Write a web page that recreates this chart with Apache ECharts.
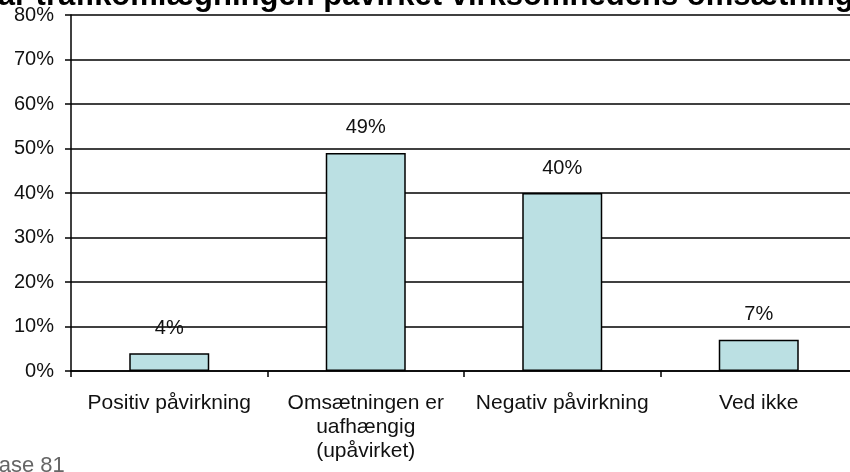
<!DOCTYPE html>
<html>
<head>
<meta charset="utf-8">
<script src="https://cdn.jsdelivr.net/npm/echarts@6/dist/echarts.min.js"></script>
<style>
  html, body { margin: 0; padding: 0; background: #fff; }
  #chart { width: 850px; height: 472px; }
</style>
</head>
<body>
<div id="chart"></div>
<script>
// Survey answers: share of companies per answer (percent)
const categories = [
  'Positiv påvirkning',
  'Omsætningen er\nuafhængig\n(upåvirket)',
  'Negativ påvirkning',
  'Ved ikke'
];
const shares = [4, 49, 40, 7];
const yTicks = { min: 0, max: 80, interval: 10 };
const titleText = 'Har trafikomlægningen påvirket virksomhedens omsætning?';
const noteText = 'Base 81';

const FONT = '"Liberation Sans", Arial, sans-serif';

const chart = echarts.init(document.getElementById('chart'), null, { renderer: 'canvas' });
chart.setOption({
  animation: false,
  backgroundColor: '#ffffff',
  grid: {
    left: 71, width: 786, top: 15, bottom: 101,
    containLabel: false,
    outerBoundsMode: 'none'
  },
  graphic: [
    {
      type: 'text',
      z: 10,
      style: {
        x: 424,
        y: -4,
        align: 'center',
        verticalAlign: 'middle',
        text: titleText,
        font: 'bold 31px ' + FONT,
        fill: '#000'
      }
    },
    {
      type: 'text',
      style: {
        x: -16,
        y: 466,
        align: 'left',
        verticalAlign: 'middle',
        text: noteText,
        font: '22px ' + FONT,
        fill: '#666'
      }
    }
  ],
  xAxis: {
    type: 'category',
    data: categories,
    axisLine: { show: true, lineStyle: { color: '#000', width: 1.5 } },
    axisTick: { show: true, length: 6, alignWithLabel: false, lineStyle: { color: '#000', width: 1.5 } },
    axisLabel: {
      color: '#111',
      fontFamily: FONT,
      fontSize: 21,
      lineHeight: 24,
      margin: 20,
      interval: 0
    },
    splitLine: { show: false }
  },
  yAxis: {
    type: 'value',
    min: yTicks.min,
    max: yTicks.max,
    interval: yTicks.interval,
    axisLine: { show: true, lineStyle: { color: '#000', width: 1.5 } },
    axisTick: { show: true, length: 6, inside: false, lineStyle: { color: '#000', width: 1.5 } },
    axisLabel: {
      formatter: '{value}%',
      color: '#111',
      fontFamily: FONT,
      fontSize: 20,
      margin: 17
    },
    splitLine: { show: true, lineStyle: { color: '#000', width: 1.5 } }
  },
  series: [{
    type: 'bar',
    data: shares,
    barWidth: 80,
    itemStyle: { color: '#BBE0E3', borderColor: '#000', borderWidth: 1.5 },
    label: {
      show: true,
      position: 'top',
      distance: 15,
      formatter: '{c}%',
      color: '#111',
      fontFamily: FONT,
      fontSize: 20
    }
  }]
});
</script>
</body>
</html>
